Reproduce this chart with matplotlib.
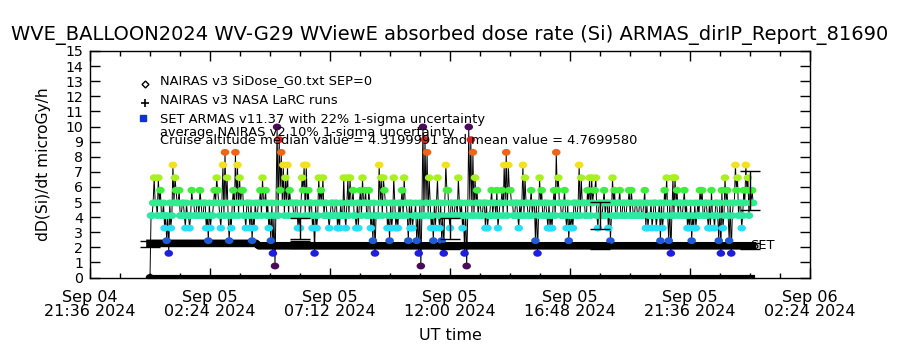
import numpy as np
import matplotlib
matplotlib.use("Agg")
from matplotlib import pyplot as plt
from matplotlib.path import Path
import matplotlib.dates as mdates

# ARMAS dose rate levels (microGy/h) and the colour each level is drawn with
levels = [0.0, 0.76, 1.60, 2.44, 3.27, 4.10, 4.94, 5.78, 6.61, 7.45, 8.29, 9.13, 9.97]
level_colors = ['black', '#4b0a5a', '#1e1ee0', '#1f5ad8', '#28e0f5', '#2de8a0',
                '#30ec90', '#3cf03c', '#a8f020', '#f5e020', '#f06414', '#e01e1e',
                '#4b0a5a']

# ARMAS samples (index into levels) from Sep 05 00:00, every 5 min ...
armas_idx_a = [
    0, 5, 8, 6, 8, 7, 5, 4, 3, 2,
    4, 9, 8, 6, 7, 5, 6, 4, 5, 4,
    7, 6, 5, 6, 7, 5, 6, 4, 3, 4,
    5, 7, 8, 6, 4, 9, 10, 8, 3, 4,
    7, 10, 9, 8, 7, 5, 4, 6, 4, 3,
    4, 5, 6, 7, 8, 6, 5, 4, 3, 2,
    1, 12, 11, 10, 9, 8, 9, 7, 6, 5,
    6, 4, 4, 8, 9, 9, 7, 6, 4, 2,
    4, 8, 7, 8, 6, 5, 4, 6, 5, 6,
    4, 4, 5, 8, 4, 8, 8, 6, 5, 4,
    4, 7, 8, 6, 5, 7, 4, 3, 2, 5,
    9, 8, 8, 6, 4, 3, 4, 8, 4, 4,
    5, 7, 8, 6, 3, 4, 4, 5, 3, 2,
    1, 12, 11, 10, 8, 4, 3, 4, 8, 4,
    3, 2, 9, 7, 4, 6, 5, 6, 8, 5,
    4, 2, 1, 12, 11, 10, 8, 7, 6, 5,
    6, 4, 4, 5, 7, 6, 5, 4, 6, 7,
    9, 10, 9, 7, 6, 5, 6, 4, 5, 9,
    8, 6, 5, 7, 6, 3, 2, 8, 7, 5,
    6, 4, 4, 4, 7, 10, 8, 6, 5, 7,
    4, 3, 4, 4, 6, 5, 9, 8, 6, 5,
    7, 8, 8, 7, 8, 4, 6, 5, 7, 6,
    4, 3, 8, 7, 5, 6, 5, 6, 5, 6,
    7, 7, 5, 6, 5, 6, 5, 6, 4, 4,
    5, 4, 6, 4, 5, 3, 4, 7, 8, 3,
    2, 8, 8, 7, 6, 5, 6, 5, 4, 4,
    3, 4, 4, 6, 7, 7, 5, 6, 4, 4,
    5, 4, 6, 3, 2, 4, 8, 7, 3, 2,
    6, 9, 8, 6, 4, 7, 9, 8, 7, 7,
]
# ... and the samples 2.5 min after each of those
armas_idx_b = [
    5, 6, 6, 5, 6, 5, 6, 5, 5, 6,
    5, 6, 7, 6, 5, 6, 5, 6, 5, 5,
    6, 5, 6, 5, 6, 5, 6, 5, 6, 5,
    6, 6, 7, 5, 6, 5, 6, 5, 5, 6,
    5, 6, 5, 6, 7, 5, 6, 5, 6, 5,
    6, 5, 6, 5, 6, 7, 6, 5, 6, 5,
    6, 5, 7, 6, 5, 6, 5, 6, 6, 5,
    6, 5, 6, 7, 5, 6, 5, 6, 5, 6,
    5, 6, 6, 5, 6, 5, 5, 6, 5, 6,
    5, 6, 5, 5, 6, 5, 6, 7, 5, 6,
    6, 5, 6, 7, 5, 6, 5, 6, 5, 5,
    6, 5, 7, 6, 5, 6, 5, 6, 5, 6,
    6, 5, 6, 5, 6, 6, 5, 6, 5, 6,
    5, 5, 6, 5, 6, 5, 6, 6, 5, 6,
    5, 6, 7, 5, 6, 5, 6, 5, 6, 6,
    5, 6, 5, 6, 5, 5, 6, 5, 6, 5,
    6, 6, 5, 6, 5, 6, 7, 5, 6, 5,
    6, 5, 7, 6, 5, 6, 5, 6, 6, 5,
    6, 5, 6, 5, 6, 6, 5, 6, 5, 6,
    5, 6, 5, 6, 5, 7, 6, 5, 6, 5,
    6, 5, 5, 6, 5, 6, 5, 6, 6, 5,
    6, 5, 6, 7, 5, 6, 5, 6, 5, 6,
    6, 5, 6, 5, 6, 7, 5, 6, 5, 6,
    5, 6, 5, 6, 5, 6, 5, 7, 6, 5,
    6, 5, 6, 5, 6, 6, 5, 6, 5, 6,
    5, 5, 6, 5, 6, 5, 7, 6, 5, 6,
    5, 6, 5, 5, 6, 5, 6, 5, 6, 7,
    5, 6, 5, 6, 7, 5, 6, 5, 6, 5,
    6, 7, 5, 6, 5, 6, 7, 5, 6, 6,
]
sample_seconds = 150

# NAIRAS v3 NASA LaRC runs (hours after Sep 05 00:00)
larc_hours = [0.0, 4.25, 4.35, 24.1]
larc_dose = [2.26, 2.26, 2.10, 2.10]

# NAIRAS v3 SiDose_G0 SEP=0
g0_hours = [0.0, 24.1]
g0_dose = [0.03, 0.03]

# averages with uncertainty bars
avg_hours = [0, 6, 12, 18, 24]
avg_armas = [np.nan, 3.25, 3.25, 4.10, 5.77]
avg_nairas = [2.22, 2.20, 2.10, 2.10, 2.10]

armas_idx = [k for pair in zip(armas_idx_a, armas_idx_b) for k in pair]
start = np.datetime64('2024-09-05T00:00')
t_armas = start + np.arange(len(armas_idx)) * np.timedelta64(sample_seconds, 's')
v_armas = np.array([levels[k] for k in armas_idx])
c_armas = [level_colors[k] for k in armas_idx]


def hrs(h):
    return start + (np.array(h) * 60).astype(int) * np.timedelta64(1, 'm')


# flattened round blob like the IDL plot symbol
ang = np.linspace(0, 2 * np.pi, 25)
blob = Path(np.column_stack([np.cos(ang), 0.8 * np.sin(ang)]), closed=True)

fig = plt.figure(figsize=(9, 3.5), dpi=100)
ax = fig.add_axes([90 / 900, 1 - 277.5 / 350, 720 / 900, 226.5 / 350])

ax.plot(hrs(g0_hours), g0_dose, color='black', lw=3, clip_on=False, zorder=4)
ax.plot(t_armas, v_armas, color='black', lw=0.7, zorder=2)
ax.plot(hrs(larc_hours), larc_dose, color='black', lw=5.5, zorder=2.5)
ax.scatter(t_armas, v_armas, c=c_armas, s=38, marker=blob, linewidths=0, zorder=3)

arm = np.array(avg_armas)
ax.errorbar(hrs(avg_hours), arm, yerr=0.22 * arm, fmt='none', ecolor='black',
            elinewidth=1, capsize=7, capthick=1, zorder=5)
nai = np.array(avg_nairas)
ax.errorbar(hrs(avg_hours), nai, yerr=0.10 * nai, fmt='none', ecolor='black',
            elinewidth=1.2, capsize=7, capthick=1, zorder=5)
ax.text(hrs([24.0])[0], 2.10, 'SET', fontsize=9.4, va='center', ha='left', zorder=6)

x0 = np.datetime64('2024-09-04T21:36')
x1 = np.datetime64('2024-09-06T02:24')
ax.set_xlim(x0, x1)
ax.set_ylim(0, 15)
major = [x0 + k * np.timedelta64(288, 'm') for k in range(7)]
minor = [x0 + k * np.timedelta64(72, 'm') for k in range(25)]
ax.set_xticks(major)
ax.set_xticks(minor, minor=True)
ax.xaxis.set_major_formatter(mdates.DateFormatter('%b %d\n%H:%M %Y'))
ax.set_yticks(range(16))
ax.tick_params(which='both', direction='in', top=True, right=True, width=1)
ax.tick_params(which='major', length=7.5)
ax.tick_params(which='minor', length=3.8)
ax.tick_params(axis='x', pad=9, labelsize=11.5)
ax.tick_params(axis='y', labelsize=10.2, pad=5)
for lbl in ax.get_xticklabels():
    lbl.set_horizontalalignment('center')
    lbl.set_linespacing(0.95)
ax.set_xlabel('UT time', fontsize=11.5, labelpad=6)
for s in ax.spines.values():
    s.set_linewidth(1)

# legend written as text in the plot
lx = (160 - 90) / 720
sx = (145 - 90) / 720
rows = [(80.7, 'NAIRAS v3 SiDose_G0.txt SEP=0'),
        (100.0, 'NAIRAS v3 NASA LaRC runs'),
        (119.3, 'SET ARMAS v11.37 with 22% 1-sigma uncertainty'),
        (132.3, 'average NAIRAS v2 10% 1-sigma uncertainty'),
        (141.0, 'Cruise altitude median value = 4.3199991 and mean value = 4.7699580')]
for y, txt in rows:
    ax.text(lx, (277.5 - y) / 226.5, txt, transform=ax.transAxes, fontsize=9.4,
            va='center', ha='left', zorder=6)
ax.plot([sx], [(277.5 - 84) / 226.5], marker='D', ms=3.5, mfc='none', mec='black',
        mew=1, transform=ax.transAxes)
ax.plot([sx], [(277.5 - 103) / 226.5], marker='+', ms=6, color='black',
        mew=1.2, transform=ax.transAxes)
ax.plot([sx - 2 / 720], [(277.5 - 118) / 226.5], marker='s', ms=4, color='#1030e0',
        transform=ax.transAxes)

fig.text(0.5, 1 - 35 / 350,
         'WVE_BALLOON2024 WV-G29 WViewE absorbed dose rate (Si) ARMAS_dirIP_Report_81690',
         ha='center', va='center', fontsize=14.0)
fig.text(44 / 900, 1 - 164 / 350, 'dD(Si)/dt microGy/h', rotation=90,
         ha='center', va='center', fontsize=11.2)

fig.savefig('out.png', dpi=100)
